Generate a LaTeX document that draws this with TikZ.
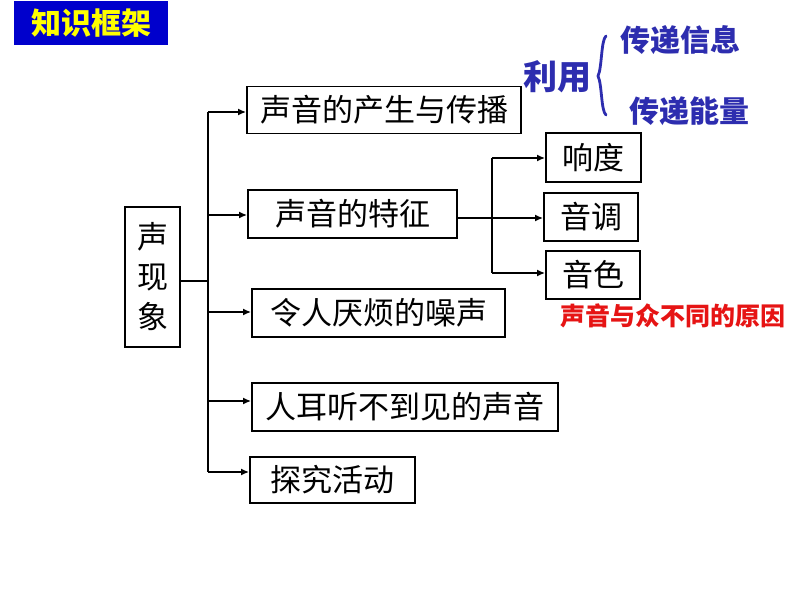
\documentclass[tikz,border=0pt]{standalone}
\usepackage{fontspec}
\setmainfont{Liberation Sans}
\newfontfamily\cjk{Noto Sans CJK SC}
\usetikzlibrary{arrows.meta,decorations.pathreplacing}
\definecolor{titleblue}{RGB}{0,0,204}
\definecolor{titleyellow}{RGB}{255,255,0}
\definecolor{useblue}{RGB}{45,45,175}
\definecolor{noteRed}{RGB}{230,20,20}
\begin{document}
\begin{tikzpicture}[x=1pt,y=-1pt,
  box/.style={draw=black,line width=1.8pt,inner sep=0pt,font=\cjk\fontsize{31}{31}\selectfont},
  conn/.style={line width=1.8pt,draw=black},
  arr/.style={conn,-{Latex[length=8pt,width=7pt]}}]
\useasboundingbox (0,0) rectangle (800,600);
\fill[white] (0,0) rectangle (800,600);
% title
\node[fill=titleblue,minimum width=154pt,minimum height=44pt,inner sep=0pt,text=titleyellow,font=\cjk\bfseries\fontsize{30}{30}\selectfont] (title) at (91,23) {知识框架};
% root
\node[box,minimum width=55pt,minimum height=140pt,align=center,font=\cjk\fontsize{31}{40}\selectfont] (root) at (152.5,277) {声\\现\\象};
% level 1
\node[box,minimum width=274pt,minimum height=47pt] (b1) at (384,110) {声音的产生与传播};
\node[box,minimum width=209pt,minimum height=48pt] (b2) at (352.5,214) {声音的特征};
\node[box,minimum width=253pt,minimum height=48pt] (b3) at (378.5,313) {令人厌烦的噪声};
\node[box,minimum width=306pt,minimum height=48pt] (b4) at (405,407) {人耳听不到见的声音};
\node[box,minimum width=165pt,minimum height=46pt] (b5) at (332.5,480) {探究活动};
% level 2
\node[box,minimum width=95pt,minimum height=49pt] (c1) at (593.5,157.5) {响度};
\node[box,minimum width=94pt,minimum height=48pt] (c2) at (591,217) {音调};
\node[box,minimum width=94pt,minimum height=48pt] (c3) at (593,275) {音色};
% connectors root
\coordinate (j) at (208,281);
\draw[conn] (root.east |- j) -- (j);
\coordinate (jt) at (208,112);
\coordinate (jb) at (208,472);
\draw[conn] (jt) -- (jb);
\draw[arr] (jt) -- (b1.west |- jt);
\draw[arr] (208,215) -- (b2.west |- 0,215);
\draw[arr] (208,312) -- (b3.west |- 0,312);
\draw[arr] (208,401) -- (b4.west |- 0,401);
\draw[arr] (jb) -- (b5.west |- jb);
% connectors features
\coordinate (k) at (492,218);
\draw[conn] (b2.east |- k) -- (k);
\coordinate (kt) at (492,158);
\coordinate (kb) at (492,273);
\draw[conn] (kt) -- (kb);
\draw[arr] (kt) -- (c1.west |- kt);
\draw[arr] (k) -- (c2.west |- k);
\draw[arr] (kb) -- (c3.west |- kb);
% note
\node[text=noteRed,font=\cjk\bfseries\fontsize{25}{25}\selectfont,inner sep=0pt] (note) at (673,316) {声音与众不同的原因};
% use
\node[text=useblue,font=\cjk\bfseries\fontsize{34}{34}\selectfont,inner sep=0pt] (use) at (557,77) {利用};
\node[text=useblue,font=\cjk\bfseries\fontsize{30}{30}\selectfont,inner sep=0pt] (u1) at (680,40) {传递信息};
\node[text=useblue,font=\cjk\bfseries\fontsize{30}{30}\selectfont,inner sep=0pt] (u2) at (689,111) {传递能量};
\coordinate (bt) at (606,36);
\coordinate (bb) at (606,115);
\draw[useblue,line width=2.8pt,line cap=round] (bt) .. controls (601,40) and (602,68) .. (598,76) .. controls (602,84) and (601,111) .. (bb);
\end{tikzpicture}
\end{document}
